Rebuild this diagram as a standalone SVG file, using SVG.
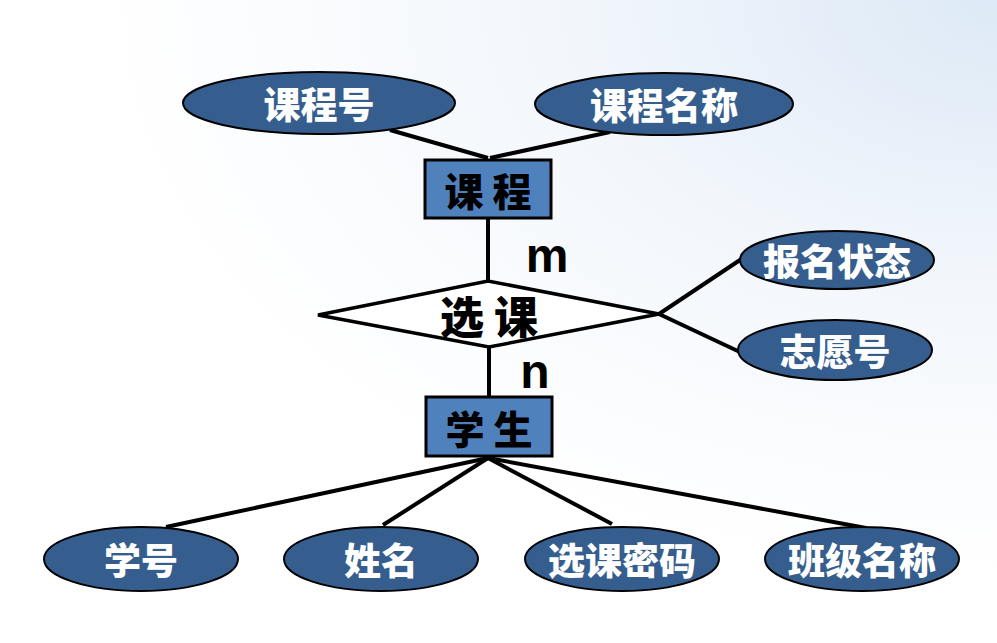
<svg xmlns="http://www.w3.org/2000/svg" width="997" height="643" viewBox="0 0 997 643">
<defs>
<radialGradient id="bg" cx="1" cy="0" r="0.9">
<stop offset="0" stop-color="#dde9f6"/>
<stop offset="0.5" stop-color="#f3f7fc"/>
<stop offset="1" stop-color="#ffffff"/>
</radialGradient>
<style>
.attr{fill:#355E8E;stroke:#000;stroke-width:2}
.ent{fill:#4F81BD;stroke:#000;stroke-width:3}
.rel{fill:#fff;stroke:#000;stroke-width:3.5}
.at{font-family:"Noto Sans CJK SC",sans-serif;font-weight:900;font-size:37px;fill:#fff;text-anchor:middle;dominant-baseline:central}
.et{font-family:"Noto Sans CJK SC",sans-serif;font-weight:900;font-size:39px;fill:#000;text-anchor:middle;dominant-baseline:central}
.rt{font-family:"Noto Sans CJK SC",sans-serif;font-weight:900;font-size:44px;fill:#000;text-anchor:middle;dominant-baseline:central}
.card{font-family:"Liberation Sans",Arial,sans-serif;font-weight:bold;font-size:48px;fill:#000;text-anchor:middle}
#connectors line{stroke:#000;stroke-width:4}
</style>
</defs>
<rect width="997" height="643" fill="url(#bg)"/>
<g id="connectors">
<line x1="390" y1="130" x2="488" y2="158"/>
<line x1="610" y1="132" x2="490" y2="158"/>
<line x1="488" y1="218" x2="488" y2="282"/>
<line x1="489" y1="347" x2="489" y2="397"/>
<line x1="659" y1="314" x2="743" y2="258"/>
<line x1="659" y1="314" x2="742" y2="353"/>
<line x1="488" y1="458" x2="166" y2="527"/>
<line x1="488" y1="458" x2="383" y2="525"/>
<line x1="488" y1="458" x2="612" y2="524"/>
<line x1="488" y1="458" x2="866" y2="528"/>
</g>
<g id="attr-kch"><ellipse class="attr" cx="319" cy="103" rx="136" ry="31"/><text class="at" x="319" y="103">课程号</text></g>
<g id="attr-kcmc"><ellipse class="attr" cx="664" cy="104" rx="129" ry="31"/><text class="at" x="664" y="104">课程名称</text></g>
<g id="ent-kc"><rect class="ent" x="425" y="160" width="126" height="58"/><text class="et" x="488" y="189">课 程</text></g>
<text class="card" x="547" y="272">m</text>
<g id="rel-xk"><polygon class="rel" points="318,315 488,281 659,314 489,347"/><text class="rt" x="489" y="315">选 课</text></g>
<text class="card" x="535" y="388">n</text>
<g id="attr-bmzt"><ellipse class="attr" cx="837" cy="260" rx="97" ry="29"/><text class="at" x="837" y="260">报名状态</text></g>
<g id="attr-zyh"><ellipse class="attr" cx="835" cy="350" rx="97" ry="30"/><text class="at" x="835" y="350">志愿号</text></g>
<g id="ent-xs"><rect class="ent" x="426" y="397" width="126" height="59"/><text class="et" x="489" y="427">学 生</text></g>
<g id="attr-xh"><ellipse class="attr" cx="141" cy="559" rx="97" ry="32"/><text class="at" x="141" y="559">学号</text></g>
<g id="attr-xm"><ellipse class="attr" cx="381" cy="559" rx="97" ry="32"/><text class="at" x="381" y="559">姓名</text></g>
<g id="attr-xkmm"><ellipse class="attr" cx="622" cy="559" rx="97" ry="32"/><text class="at" x="622" y="559">选课密码</text></g>
<g id="attr-bjmc"><ellipse class="attr" cx="862" cy="559" rx="97" ry="32"/><text class="at" x="862" y="559">班级名称</text></g>
</svg>
